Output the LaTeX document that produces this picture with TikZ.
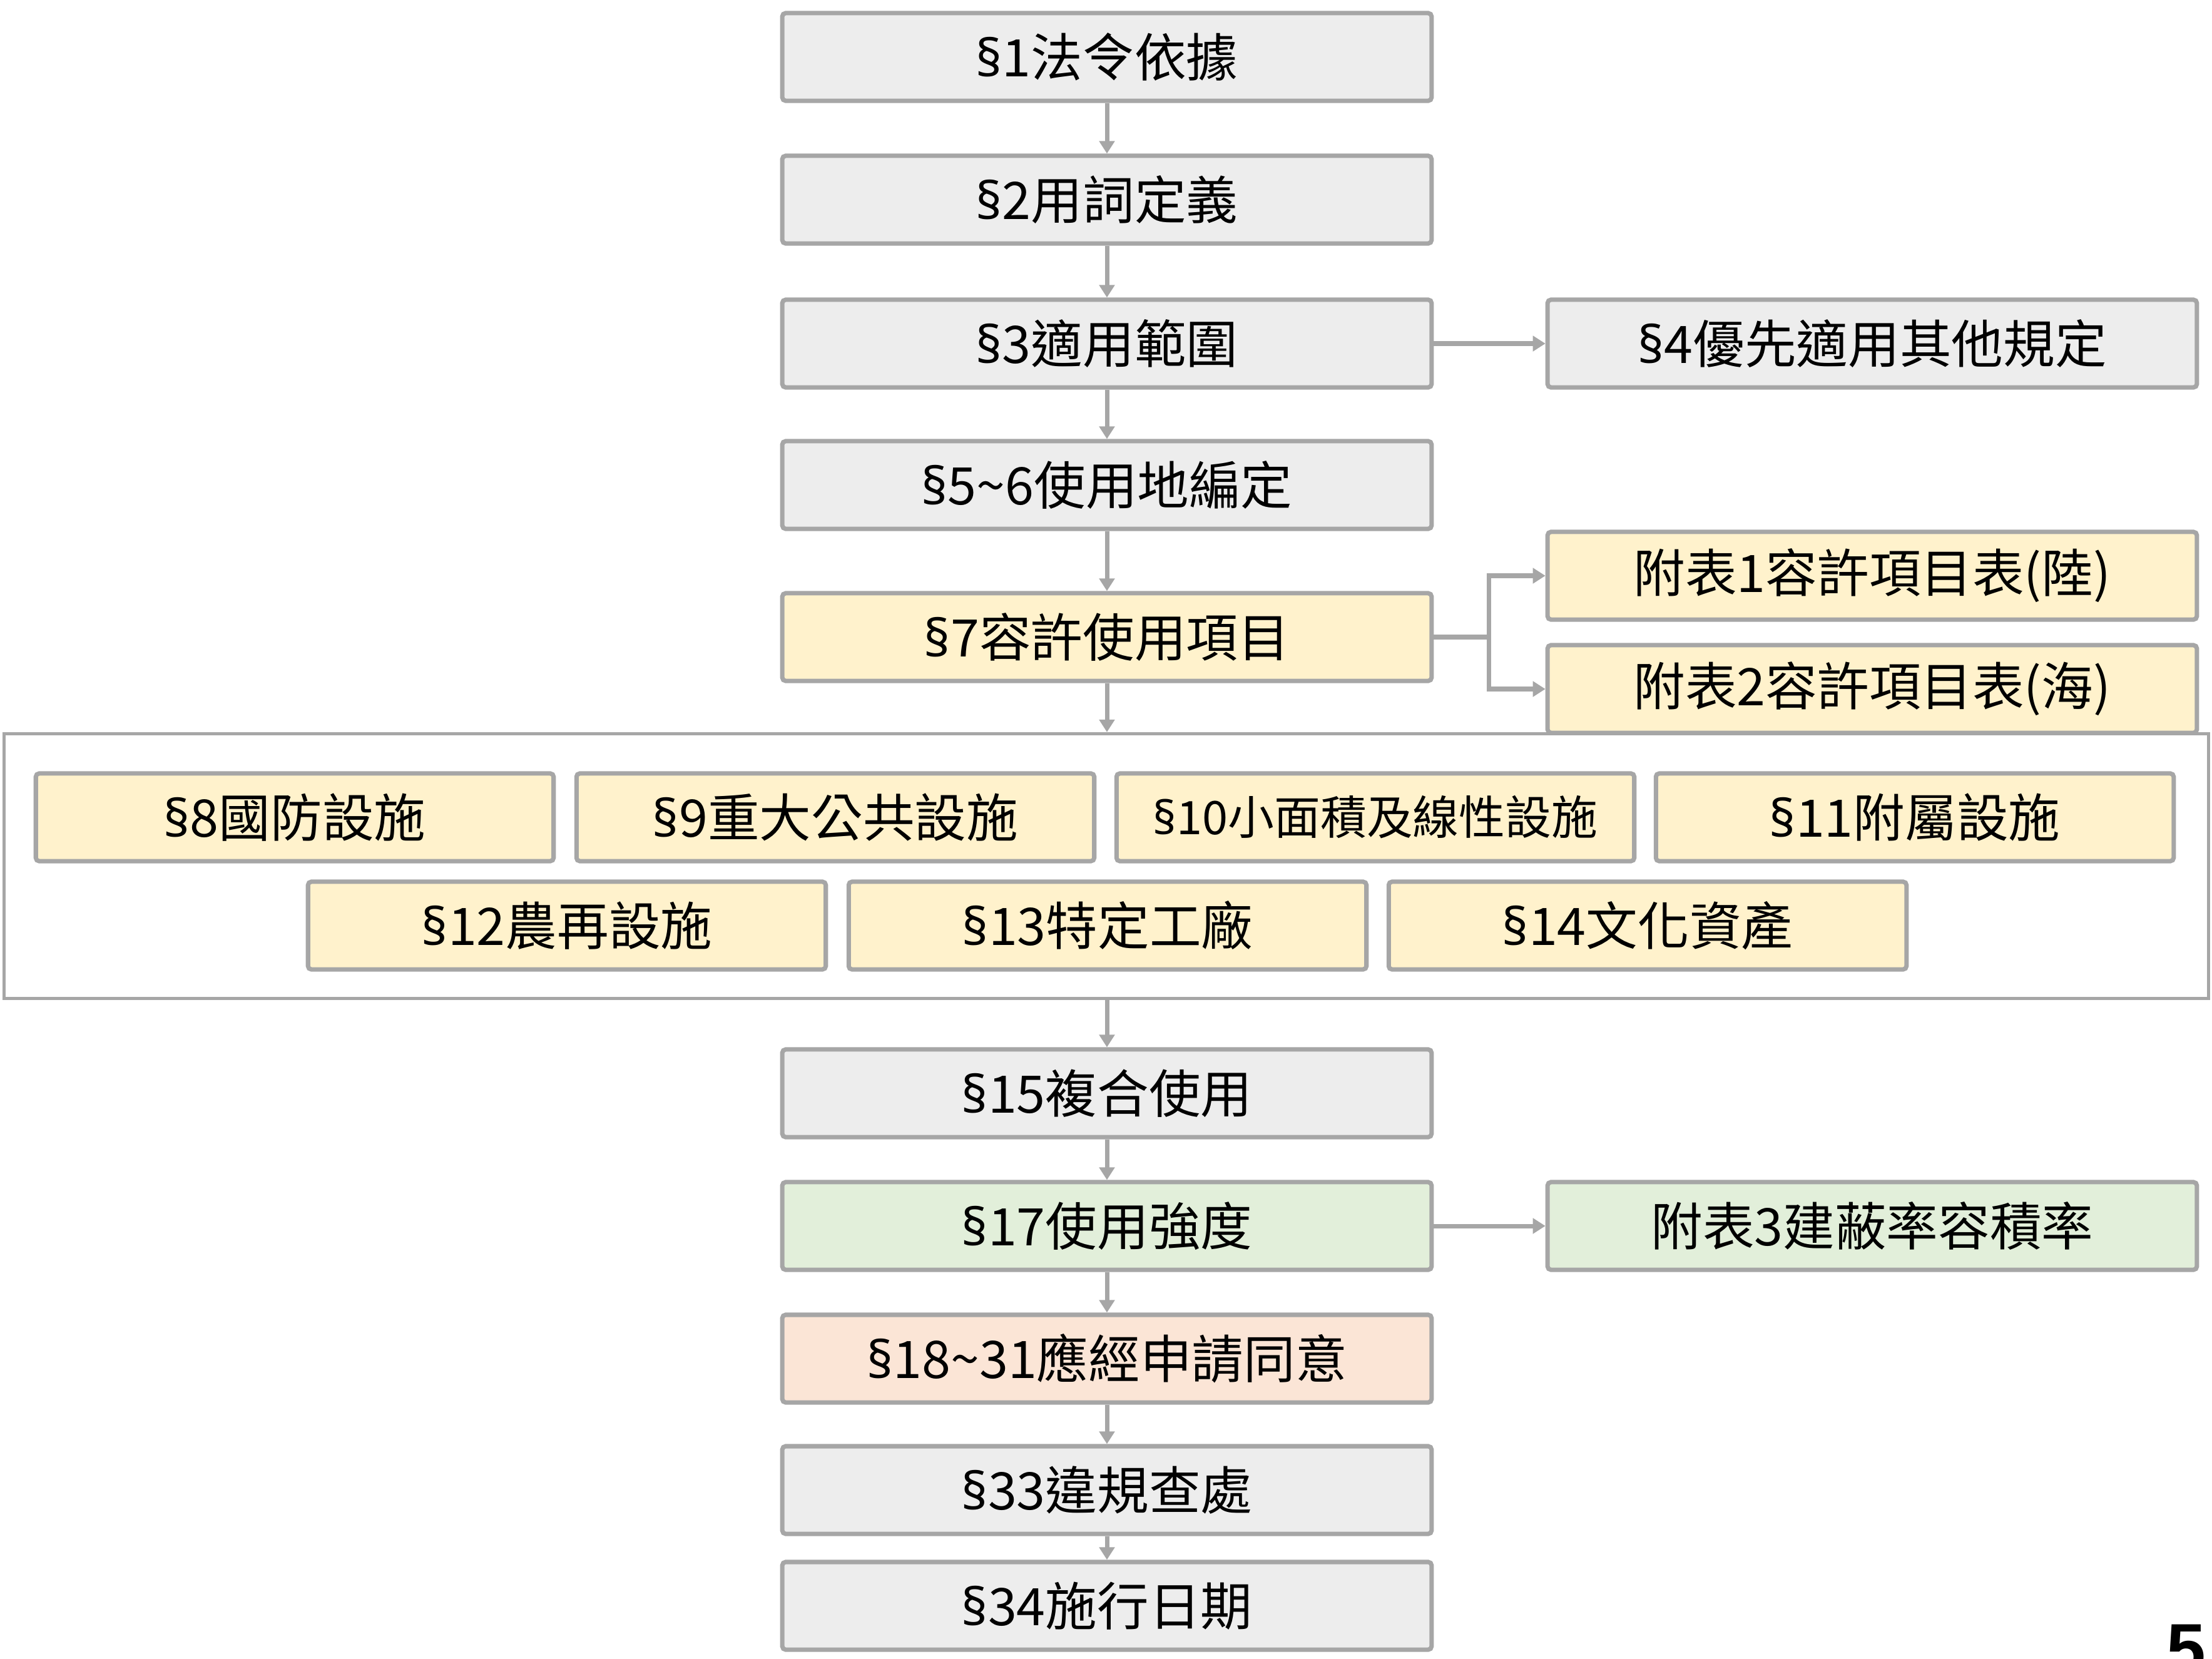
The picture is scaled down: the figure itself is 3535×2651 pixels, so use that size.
\documentclass[tikz,border=0pt]{standalone}
\usepackage{fontspec}
\setmainfont{Noto Sans CJK TC}
\newfontfamily\secfont{Noto Sans}
\newfontfamily\pagefont{Liberation Sans}
\newcommand\secmark{{\secfont §}}
\usetikzlibrary{arrows.meta}

\definecolor{linegray}{HTML}{A6A6A6}
\definecolor{fillgray}{HTML}{EDEDED}
\definecolor{fillyellow}{HTML}{FFF2CC}
\definecolor{fillgreen}{HTML}{E2EFDA}
\definecolor{fillpeach}{HTML}{FBE5D6}

\tikzset{
  box/.style={draw=linegray, line width=2pt, rounded corners=1.5pt, inner sep=0pt,
    minimum width=10.37cm, minimum height=1.40cm,
    font=\fontsize{23.5pt}{28pt}\selectfont},
  graybox/.style={box, fill=fillgray},
  yellowbox/.style={box, fill=fillyellow},
  greenbox/.style={box, fill=fillgreen},
  peachbox/.style={box, fill=fillpeach},
  itembox/.style={yellowbox, minimum width=8.27cm},
  frame/.style={draw=linegray, line width=1.4pt, inner sep=0pt,
    minimum width=35.21cm, minimum height=4.23cm},
  link/.style={draw=linegray, line width=2pt, -{Triangle[length=0.2cm,width=0.24cm]}},
}

\begin{document}
\begin{tikzpicture}[x=0.01cm, y=-0.01cm]
  \useasboundingbox (0,0) rectangle (3535,2651);
  \clip (0,0) rectangle (3535,2651);

  % 主欄與右欄的中心 x
  \def\mx{1769}
  \def\sx{2992}

  % §8~§14 外框（先畫，讓附表2壓在上面）
  \node[frame] (grp) at (1768,1384) {};

  % 主欄
  \node[graybox] (s1) at (\mx,91) {\secmark1法令依據};
  \node[graybox] (s2) at (\mx,319) {\secmark2用詞定義};
  \node[graybox] (s3) at (\mx,549) {\secmark3適用範圍};
  \node[graybox] (s5) at (\mx,775) {\secmark5\textasciitilde6使用地編定};
  \node[yellowbox] (s7) at (\mx,1018) {\secmark7容許使用項目};
  \node[graybox] (s15) at (\mx,1747) {\secmark15複合使用};
  \node[greenbox] (s17) at (\mx,1959) {\secmark17使用強度};
  \node[peachbox] (s18) at (\mx,2171) {\secmark18\textasciitilde31應經申請同意};
  \node[graybox] (s33) at (\mx,2381) {\secmark33違規查處};
  \node[graybox] (s34) at (\mx,2566) {\secmark34施行日期};

  % 右欄
  \node[graybox] (s4) at (\sx,549) {\secmark4優先適用其他規定};
  \node[yellowbox] (t1) at (\sx,920) {附表1容許項目表(陸)};
  \node[yellowbox] (t2) at (\sx,1101) {附表2容許項目表(海)};
  \node[greenbox] (t3) at (\sx,1959) {附表3建蔽率容積率};

  % 框內兩列
  \node[itembox] (s8) at (471,1306) {\secmark8國防設施};
  \node[itembox] (s9) at (1335,1306) {\secmark9重大公共設施};
  \node[itembox, font=\fontsize{21pt}{25pt}\selectfont] (s10) at (2198,1306) {\secmark10小面積及線性設施};
  \node[itembox] (s11) at (3060,1306) {\secmark11附屬設施};
  \node[itembox] (s12) at (906,1479) {\secmark12農再設施};
  \node[itembox] (s13) at (1770,1479) {\secmark13特定工廠};
  \node[itembox] (s14) at (2633,1479) {\secmark14文化資產};

  % 連線
  \draw[link] (s1) -- (s2);
  \draw[link] (s2) -- (s3);
  \draw[link] (s3) -- (s4);
  \draw[link] (s3) -- (s5);
  \draw[link] (s5) -- (s7);
  \coordinate (fork) at (2379,1018);
  \draw[link] (s7.east) -- (fork) |- (t1.west);
  \draw[link] (fork) |- (t2.west);
  \draw[link] (s7.south) -- (s7 |- grp.north);
  \draw[link] (s15 |- grp.south) -- (s15.north);
  \draw[link] (s15) -- (s17);
  \draw[link] (s17) -- (t3);
  \draw[link] (s17) -- (s18);
  \draw[link] (s18) -- (s33);
  \draw[link] (s33) -- (s34);

  % 頁碼
  \node[anchor=north, inner sep=0pt, font=\pagefont\bfseries\fontsize{32pt}{36pt}\selectfont] (pgno) at (3494,2595) {5};
\end{tikzpicture}
\end{document}
